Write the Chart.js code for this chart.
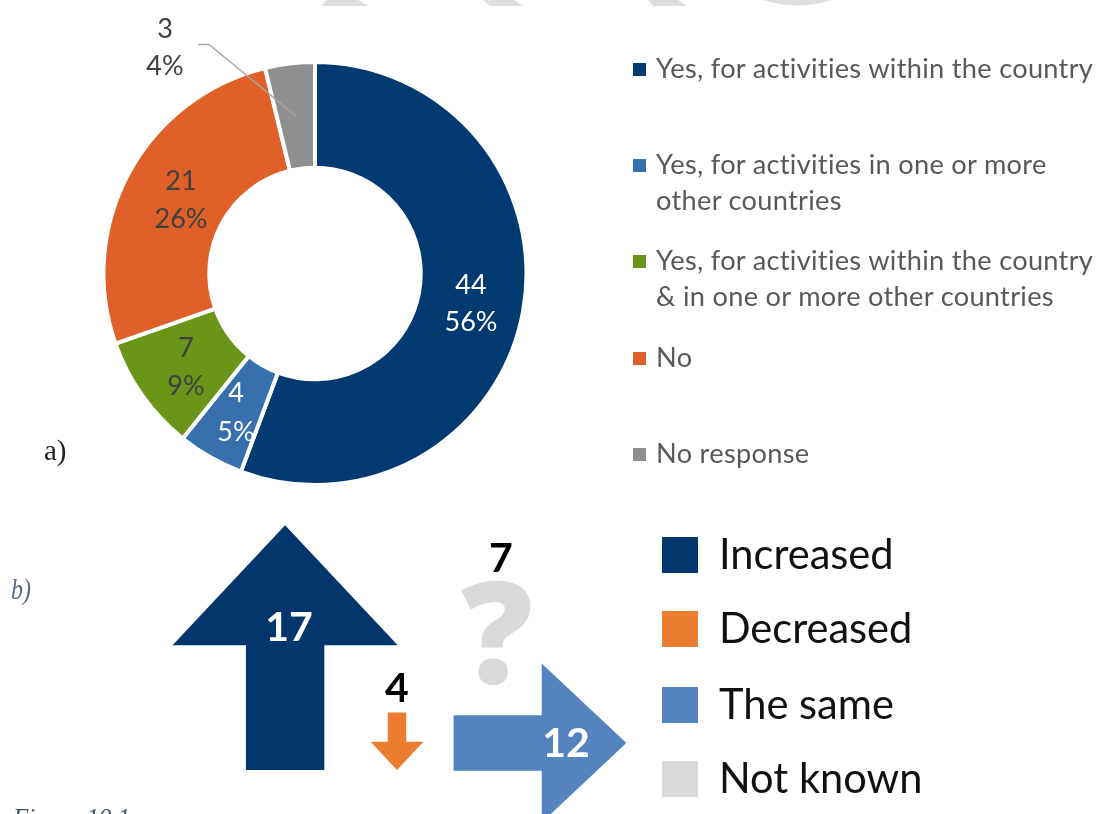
<!DOCTYPE html>
<html lang="en">
<head>
<meta charset="UTF-8">
<title>Figure 10.1</title>
<script src="https://cdn.jsdelivr.net/npm/chart.js"></script>
<style>
    html, body { margin: 0; padding: 0; background: #fff; }
    #page { position: relative; width: 1098px; height: 814px; overflow: hidden; font-family: Lato, sans-serif; }
    canvas { position: absolute; left: 0; }
    #watermark { position: absolute; left: 0; top: 0; }
    .txt { position: absolute; white-space: nowrap; line-height: 1; }
    .num { font-size: 27px; transform: translate(-50%, -50%); }
    .legend-a { font-size: 27.2px; color: #595959; letter-spacing: 0.3px; transform: translateY(-50%); }
    .legend-b { font-size: 41.6px; color: #111; transform: translateY(-50%); }
    .swatch { position: absolute; }
    .count { font-size: 41px; font-weight: 700; transform: translate(-50%, -50%); }
    .serif { font-family: "Liberation Serif", serif; }
</style>
</head>
<body>
<div id="page">
    <svg id="watermark" width="1098" height="8">
        <path fill="#dedede" d="M326 0H358L368 6H322Z M483 0H514L523 6H490Z M648 0H678L687 6H653Z M763 0H832Q797 11 763 0Z"/>
    </svg>
    <canvas id="donut" width="1098" height="814" style="top:0"></canvas>
    <canvas id="arrows" width="1098" height="314" style="top:500px"></canvas>
</div>
<script>
    // a) doughnut
    const categories = [
        ['Yes, for activities within the country'],
        ['Yes, for activities in one or more', 'other countries'],
        ['Yes, for activities within the country', '& in one or more other countries'],
        ['No'],
        ['No response']
    ];
    const counts = [44, 4, 7, 21, 3];
    const percents = ['56%', '5%', '9%', '26%', '4%'];
    const colors = ['#003a70', '#3670ad', '#6b9519', '#e0602a', '#8f8f8f'];
    const labelColors = ['#fff', '#fff', '#404040', '#404040', '#404040'];

    // b) arrows
    const trendLabels = ['Increased', 'Decreased', 'The same', 'Not known'];
    const trendValues = [17, 4, 12, 7];
    const trendColors = ['#03366c', '#ea7d30', '#5384c0', '#d9d9d9'];

    const page = document.getElementById('page');

    function addText(text, x, y, cls, css) {
        const el = document.createElement('div');
        el.className = 'txt ' + cls;
        el.textContent = text;
        el.style.left = x + 'px';
        el.style.top = y + 'px';
        Object.assign(el.style, css || {});
        page.appendChild(el);
    }

    function addSwatch(x, y, size, color) {
        const el = document.createElement('div');
        el.className = 'swatch';
        el.style.cssText = `left:${x}px;top:${y}px;width:${size}px;height:${size}px;background:${color}`;
        page.appendChild(el);
    }

    // leader line for the small grey slice
    const leaderLine = {
        id: 'leaderLine',
        afterDraw(chart) {
            const ctx = chart.ctx;
            ctx.save();
            ctx.strokeStyle = '#a6a6a6';
            ctx.lineWidth = 1.4;
            ctx.beginPath();
            ctx.moveTo(198, 44.5);
            ctx.lineTo(209, 44.5);
            ctx.lineTo(296, 116);
            ctx.stroke();
            ctx.restore();
        }
    };

    new Chart(document.getElementById('donut'), {
        type: 'doughnut',
        data: {
            labels: categories.map(c => c.join(' ')),
            datasets: [{
                data: counts,
                backgroundColor: colors,
                borderColor: '#fff',
                borderWidth: 4
            }]
        },
        options: {
            responsive: false,
            animation: false,
            cutout: '50%',
            layout: { padding: { left: 101, right: 569, top: 60, bottom: 327 } },
            plugins: { legend: { display: false }, tooltip: { enabled: false } }
        },
        plugins: [leaderLine]
    });

    // one unit of the trend scale is 14.4px, the arrows are drawn to length
    const pxPerUnit = 14.4;
    const arrowTails = [{ x: 19.8, y: 0 }, { x: 27.57, y: 4 }, { x: 31.5, y: 1.875 }];
    const arrowDirs = [{ x: 0, y: 1 }, { x: 0, y: -1 }, { x: 1, y: 0 }];

    const arrowShapes = {
        id: 'arrowShapes',
        afterDatasetsDraw(chart) {
            const ctx = chart.ctx;
            chart.data.datasets.forEach((ds, i) => {
                const tail = { x: chart.scales.x.getPixelForValue(ds.data[0].x), y: chart.scales.y.getPixelForValue(ds.data[0].y) };
                const tip = { x: chart.scales.x.getPixelForValue(ds.data[1].x), y: chart.scales.y.getPixelForValue(ds.data[1].y) };
                const len = Math.hypot(tip.x - tail.x, tip.y - tail.y);
                const ux = (tip.x - tail.x) / len, uy = (tip.y - tail.y) / len;
                const pt = (along, across) => [tail.x + ux * along - uy * across, tail.y + uy * along + ux * across];
                const neck = len * 0.51, shaft = len * 0.16, head = len * 0.46;
                const outline = [pt(0, -shaft), pt(neck, -shaft), pt(neck, -head), pt(len, 0), pt(neck, head), pt(neck, shaft), pt(0, shaft)];
                ctx.save();
                ctx.fillStyle = ds.backgroundColor;
                ctx.beginPath();
                outline.forEach((p, n) => n ? ctx.lineTo(p[0], p[1]) : ctx.moveTo(p[0], p[1]));
                ctx.closePath();
                ctx.fill();
                ctx.restore();
            });
        }
    };

    new Chart(document.getElementById('arrows'), {
        type: 'scatter',
        data: {
            datasets: arrowTails.map((t, i) => ({
                data: [t, { x: t.x + arrowDirs[i].x * trendValues[i], y: t.y + arrowDirs[i].y * trendValues[i] }],
                backgroundColor: trendColors[i],
                pointRadius: 0
            }))
        },
        options: {
            responsive: false,
            animation: false,
            layout: { padding: 0 },
            scales: {
                x: { display: false, min: 0, max: 1098 / pxPerUnit },
                y: { display: false, min: -44 / pxPerUnit, max: 270 / pxPerUnit }
            },
            plugins: { legend: { display: false }, tooltip: { enabled: false } }
        },
        plugins: [arrowShapes]
    });

    // doughnut value labels
    const labelSpots = [[471, 283, 320], [236, 391, 430], [186, 346, 384], [181, 179, 217], [165, 27, 64]];
    counts.forEach((v, i) => {
        const s = labelSpots[i];
        addText(String(v), s[0], s[1], 'num', { color: labelColors[i] });
        addText(percents[i], s[0], s[2], 'num', { color: labelColors[i] });
    });

    // legend a)
    const legendRows = [[68], [164, 200], [260, 296], [357], [453]];
    categories.forEach((lines, i) => {
        addSwatch(633, legendRows[i][0] - 5, 13, colors[i]);
        lines.forEach((line, n) => addText(line, 656, legendRows[i][n], 'legend-a'));
    });

    // legend b)
    const legendBRows = [554, 628, 704, 778];
    trendLabels.forEach((t, i) => {
        addSwatch(662, legendBRows[i] - 17, 36, trendColors[i]);
        addText(t, 719, legendBRows[i], 'legend-b');
    });

    // counts on the arrows and the question mark
    addText(String(trendValues[0]), 289, 625, 'count', { color: '#fff' });
    addText(String(trendValues[1]), 397, 686, 'count', { color: '#000' });
    addText(String(trendValues[2]), 566, 741, 'count', { color: '#fff' });
    addText(String(trendValues[3]), 501, 556, 'count', { color: '#000' });
    addText('?', 497, 628, 'count', { color: trendColors[3], fontSize: '142px', fontFamily: '"Open Sans", sans-serif', fontWeight: 800 });

    // panel captions
    addText('a)', 44, 436, 'serif', { fontSize: '29px', color: '#222' });
    addText('b)', 11, 574, 'serif', { fontSize: '30px', fontStyle: 'italic', color: '#5d6b86', transform: 'scaleX(0.8)', transformOrigin: 'left' });
    addText('Figure 10.1', 13, 805, 'serif', { fontSize: '25px', fontStyle: 'italic', color: '#44546a' });
</script>
</body>
</html>
